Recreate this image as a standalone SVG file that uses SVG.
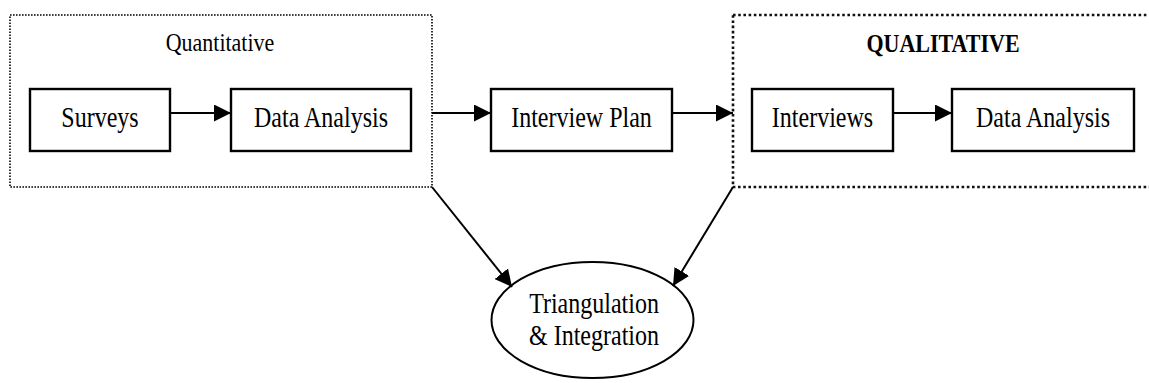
<svg xmlns="http://www.w3.org/2000/svg" width="1149" height="383" viewBox="0 0 1149 383">
<defs>
<marker id="ah" viewBox="0 0 10 10" refX="10" refY="5" markerWidth="8.5" markerHeight="8.5" markerUnits="strokeWidth" orient="auto">
<path d="M0,0 L10,5 L0,10 Z" fill="#000"/>
</marker>
<style>
.box{fill:#fff;stroke:#000;stroke-width:2.4}
.t{font-family:"Liberation Serif","Times New Roman",serif;font-size:24px;fill:#000;text-anchor:middle}
.h{font-family:"Liberation Serif","Times New Roman",serif;font-size:22px;fill:#000;text-anchor:middle}
.c{fill:none;stroke:#000;stroke-width:2}
</style>
</defs>
<rect width="1149" height="383" fill="#fff"/>
<g id="quantitative">
<rect x="10" y="15" width="422" height="172" fill="none" stroke="#000" stroke-width="1.6" stroke-dasharray="1.6 1.4"/>
<text class="h" transform="translate(220,51) scale(1,1.18)">Quantitative</text>
</g>
<g id="qualitative">
<rect x="733" y="15" width="430" height="172" fill="none" stroke="#111" stroke-width="2.6" stroke-dasharray="2.6 2.6"/>
<text class="h" font-weight="bold" transform="translate(943,52) scale(1,1.18)">QUALITATIVE</text>
</g>
<g id="surveys">
<rect class="box" x="30" y="89" width="140" height="62"/>
<text class="t" transform="translate(100,127) scale(1,1.25)">Surveys</text>
</g>
<g id="data-analysis-1">
<rect class="box" x="231" y="89" width="180" height="62"/>
<text class="t" transform="translate(321,127) scale(1,1.25)">Data Analysis</text>
</g>
<g id="interview-plan">
<rect class="box" x="491" y="89" width="181" height="62"/>
<text class="t" transform="translate(581.5,127) scale(1,1.25)">Interview Plan</text>
</g>
<g id="interviews">
<rect class="box" x="752" y="89" width="141" height="62"/>
<text class="t" transform="translate(822.5,127) scale(1,1.25)">Interviews</text>
</g>
<g id="data-analysis-2">
<rect class="box" x="952" y="89" width="182" height="62"/>
<text class="t" transform="translate(1043,127) scale(1,1.25)">Data Analysis</text>
</g>
<g id="triangulation">
<ellipse cx="592.5" cy="320" rx="101" ry="58" fill="#fff" stroke="#000" stroke-width="2"/>
<text class="t" transform="translate(594,313) scale(1,1.25)">Triangulation</text>
<text class="t" transform="translate(594,345) scale(1,1.25)">&amp; Integration</text>
</g>
<g id="connectors">
<line class="c" x1="170" y1="113" x2="231" y2="113" marker-end="url(#ah)"/>
<line class="c" x1="432" y1="113" x2="491" y2="113" marker-end="url(#ah)"/>
<line class="c" x1="672" y1="113" x2="733" y2="113" marker-end="url(#ah)"/>
<line class="c" x1="893" y1="113" x2="952" y2="113" marker-end="url(#ah)"/>
<line class="c" x1="432" y1="187" x2="512" y2="287" marker-end="url(#ah)"/>
<line class="c" x1="733" y1="187" x2="673" y2="286" marker-end="url(#ah)"/>
</g>
</svg>
